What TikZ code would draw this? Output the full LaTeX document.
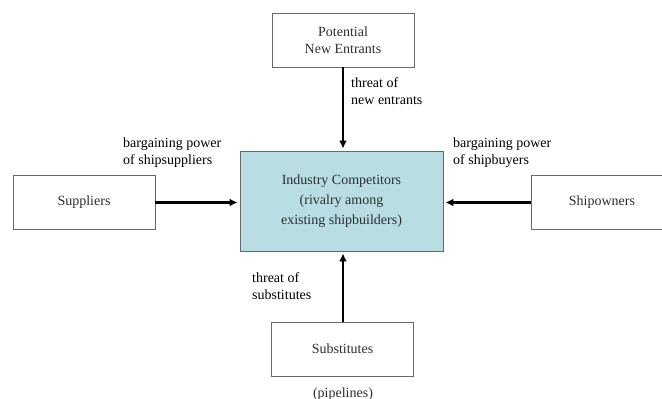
\documentclass[tikz,border=0pt]{standalone}
\usepackage{fontspec}
\setmainfont{Liberation Serif}
\usetikzlibrary{arrows.meta}
\definecolor{boxline}{RGB}{105,105,105}
\definecolor{boxtext}{RGB}{45,45,45}
\definecolor{corefill}{RGB}{184,222,228}
\begin{document}
\begin{tikzpicture}[x=1pt,y=-1pt,
  force/.style={draw=boxline,line width=0.9pt,minimum width=142pt,minimum height=54pt,
    inner sep=0pt,align=center,text=boxtext,font=\fontsize{14}{17}\selectfont},
  core/.style={force,fill=corefill,minimum width=203pt,minimum height=100pt,
    font=\fontsize{14}{20}\selectfont},
  lbl/.style={anchor=north west,inner sep=0pt,align=left,text=black,
    font=\fontsize{14}{17}\selectfont},
  push/.style={line width=2.1pt,-{Latex[length=8pt,width=8pt]},shorten >=2pt}]
\useasboundingbox (0,0) rectangle (662,399);
\clip (0,0) rectangle (662,399);

% five forces
\node[force] (entr) at (343,40) {Potential\\New Entrants};
\node[force] (supp) at (84,202.5) {Suppliers};
\node[core]  (ind)  at (341.5,201) {Industry Competitors\\(rivalry among\\existing shipbuilders)};
\node[force] (buy)  at (602,202.5) {Shipowners};
\node[force] (subs) at (342.5,349) {Substitutes};

% pressures acting on the industry
\draw[push] (entr.south -| 343,0) -- (ind.north -| 343,0);
\draw[push] (supp.east) -- (supp.east -| ind.west);
\draw[push] (buy.west) -- (buy.west -| ind.east);
\draw[push] (subs.north -| 343,0) -- (ind.south -| 343,0);

% labels
\node[lbl] (lentr) at (351,77) {threat of\\new entrants};
\node[lbl] (lsupp) at (123,138) {bargaining power\\of shipsuppliers};
\node[lbl] (lbuy)  at (453,138) {bargaining power\\of shipbuyers};
\node[lbl] (lsubs) at (252,272) {threat of\\substitutes};
\node[anchor=base,inner sep=0pt,text=boxtext,font=\fontsize{14}{17}\selectfont] (pipe) at (343,397.5) {(pipelines)};
\end{tikzpicture}
\end{document}
